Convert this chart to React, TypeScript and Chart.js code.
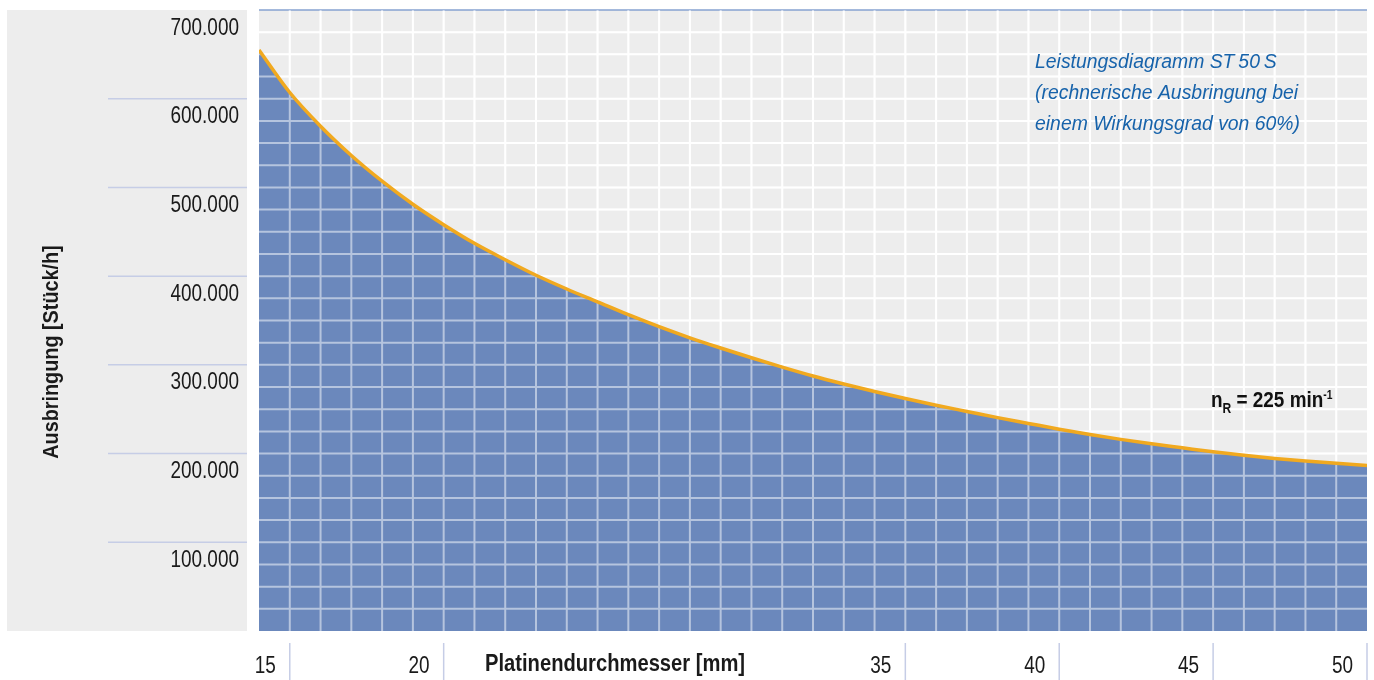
import React, { useEffect, useRef } from "react";
import { Chart, registerables } from "chart.js";

Chart.register(...registerables);

// ---- data ----
const diameters = [14, 15, 16, 17, 18, 19, 20, 21, 22, 23, 24, 25, 26, 27, 28, 29, 30, 31, 32, 33, 34, 35, 36, 37, 38, 39, 40, 41, 42, 43, 44, 45, 46, 47, 48, 49, 50];
const outputPerHour = [655000, 607000, 569000, 536000, 507000, 481000, 458000, 437000, 418500, 401000, 385500, 371000, 356500, 343000, 330500, 319000, 308000, 297500, 287500, 278500, 270000, 262000, 254500, 247500, 240500, 234000, 227500, 221500, 216000, 211000, 206500, 202000, 198000, 194500, 191500, 189000, 186500];
const yTickValues = [100000, 200000, 300000, 400000, 500000, 600000, 700000];
const xTickLabels = [15, 20, 35, 40, 45, 50];
const xTitle = "Platinendurchmesser [mm]";
const yTitle = "Ausbringung [Stück/h]";
const noteLines = ["Leistungsdiagramm ST\u200950\u2009S", "(rechnerische Ausbringung bei", "einem Wirkungsgrad von 60%)"];

const FONT = '"Liberation Sans", Arial, sans-serif';

const fmt = (v: number) => String(v).replace(/\B(?=(\d{3})+(?!\d))/g, ".");

function text(ctx: any, t: string, x: number, y: number, sx: number) {
  ctx.save();
  ctx.translate(x, y);
  ctx.scale(sx, 1);
  ctx.fillText(t, 0, 0);
  ctx.restore();
}

function drawGrid(chart: any, color: string, width: number) {
  const { ctx, chartArea: ca, scales } = chart;
  const x = scales.x;
  const y = scales.y;
  ctx.save();
  ctx.beginPath();
  ctx.rect(ca.left, ca.top, ca.right - ca.left, ca.bottom - ca.top);
  ctx.clip();
  ctx.strokeStyle = color;
  ctx.lineWidth = width;
  ctx.beginPath();
  for (let v = x.min + 1; v < x.max; v += 1) {
    const px = x.getPixelForValue(v);
    ctx.moveTo(px, ca.top);
    ctx.lineTo(px, ca.bottom);
  }
  for (let v = 25000; v < y.max; v += 25000) {
    const py = y.getPixelForValue(v);
    ctx.moveTo(ca.left, py);
    ctx.lineTo(ca.right, py);
  }
  ctx.stroke();
  ctx.restore();
}

const decorPlugin = {
  id: "decor",
  beforeDatasetsDraw(chart: any) {
    const { ctx, chartArea: ca, scales } = chart;
    const x = scales.x;
    const y = scales.y;
    ctx.save();
    // left panel
    ctx.fillStyle = "#ededed";
    ctx.fillRect(7, ca.top, ca.left - 12 - 7, ca.bottom - ca.top);
    // plot background
    ctx.fillRect(ca.left, ca.top, ca.right - ca.left, ca.bottom - ca.top);
    ctx.restore();

    drawGrid(chart, "#ffffff", 2);

    ctx.save();
    // top border line
    ctx.strokeStyle = "#86a2d0";
    ctx.lineWidth = 1.5;
    ctx.beginPath();
    ctx.moveTo(ca.left, ca.top);
    ctx.lineTo(ca.right, ca.top);
    ctx.stroke();

    // y tick lines in panel + labels
    ctx.strokeStyle = "#c6cde6";
    ctx.lineWidth = 1.5;
    ctx.fillStyle = "#1a1a1a";
    ctx.font = `24px ${FONT}`;
    ctx.textAlign = "right";
    ctx.textBaseline = "middle";
    for (const v of yTickValues) {
      const py = y.getPixelForValue(v);
      if (v < y.max) {
        ctx.beginPath();
        ctx.moveTo(108, py);
        ctx.lineTo(ca.left - 12, py);
        ctx.stroke();
      }
      text(ctx, fmt(v), 239, py + 18, 0.79);
    }

    // x separators and labels
    for (const v of xTickLabels) {
      const px = x.getPixelForValue(v);
      ctx.beginPath();
      ctx.moveTo(px, 643);
      ctx.lineTo(px, 680);
      ctx.stroke();
      text(ctx, String(v), px - 14, 666, 0.79);
    }

    // x title
    ctx.font = `bold 23px ${FONT}`;
    ctx.textAlign = "left";
    text(ctx, xTitle, 485, 665, 0.877);

    // y title
    ctx.font = `bold 22px ${FONT}`;
    ctx.translate(52, 352);
    ctx.rotate(-Math.PI / 2);
    ctx.textAlign = "center";
    text(ctx, yTitle, 0, 0, 0.9);
    ctx.restore();
  },
  afterDatasetDraw(chart: any, args: any) {
    if (args.index === 1) {
      drawGrid(chart, "rgba(255,255,255,0.5)", 2);
    }
  },
  afterDraw(chart: any) {
    const { ctx } = chart;
    ctx.save();
    // note text
    ctx.fillStyle = "#1763ab";
    ctx.font = `italic 20px ${FONT}`;
    ctx.textAlign = "left";
    ctx.textBaseline = "middle";
    noteLines.forEach((t, i) => text(ctx, t, 1035, 62 + i * 31, 0.97));

    // n_R label
    ctx.fillStyle = "#111111";
    ctx.textBaseline = "alphabetic";
    ctx.translate(1211, 407);
    ctx.scale(0.86, 1);
    let cx = 0;
    ctx.font = `bold 22px ${FONT}`;
    ctx.fillText("n", cx, 0);
    cx += ctx.measureText("n").width;
    ctx.font = `bold 14px ${FONT}`;
    ctx.fillText("R", cx, 6);
    cx += ctx.measureText("R").width;
    ctx.font = `bold 22px ${FONT}`;
    const main = " = 225 min";
    ctx.fillText(main, cx, 0);
    cx += ctx.measureText(main).width;
    ctx.font = `bold 12px ${FONT}`;
    ctx.fillText("-1", cx, -8);
    ctx.restore();
  },
};

export default function App() {
  const canvasRef = useRef<HTMLCanvasElement | null>(null);

  useEffect(() => {
    document.body.style.margin = "0";
    const canvas = canvasRef.current;
    if (!canvas) return;
    const points = diameters.map((d, i) => ({ x: d, y: outputPerHour[i] }));
    const chart = new Chart(canvas, {
      type: "line",
      data: {
        datasets: [
          {
            data: points,
            borderColor: "#f1a91f",
            borderWidth: 3.5,
            pointRadius: 0,
            fill: false,
            cubicInterpolationMode: "monotone",
          },
          {
            data: points,
            borderColor: "transparent",
            borderWidth: 1,
            backgroundColor: "#6b88bc",
            pointRadius: 0,
            fill: "origin",
            cubicInterpolationMode: "monotone",
          },
        ],
      },
      options: {
        animation: false,
        responsive: false,
        maintainAspectRatio: false,
        devicePixelRatio: 1,
        layout: { padding: { left: 259, top: 10, right: 7, bottom: 49 } },
        plugins: { legend: { display: false }, tooltip: { enabled: false } },
        scales: {
          x: { type: "linear", min: 14, max: 50, display: false },
          y: { type: "linear", min: 0, max: 700000, display: false },
        },
      },
      plugins: [decorPlugin],
    } as any);
    return () => chart.destroy();
  }, []);

  return (
    <div style={{ width: 1374, height: 680 }}>
      <canvas ref={canvasRef} width={1374} height={680} style={{ display: "block" }} />
    </div>
  );
}
